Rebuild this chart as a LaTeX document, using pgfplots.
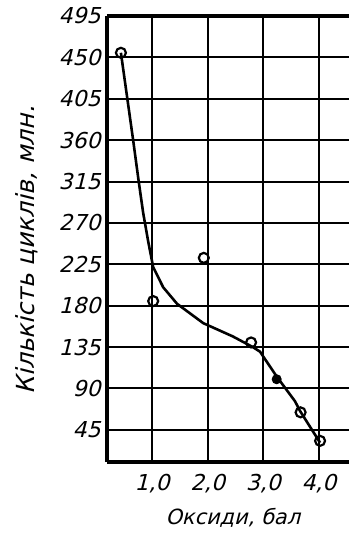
\documentclass[border=0pt]{standalone}
\usepackage{fontspec}
\setmainfont{DejaVu Sans}[FakeSlant=0.25]
\usepackage{pgfplots}
\pgfplotsset{compat=1.18}
\begin{document}
\begin{tikzpicture}
\begin{axis}[
  scale only axis,
  width=242bp, height=446bp,
  xmin=0.19, xmax=4.54,
  ymin=10, ymax=495,
  separate axis lines,
  axis x line=box, axis y line=left,
  axis line style={line width=3.4pt, black, -},
  xtick={1,2,3,4},
  xticklabels={{1,0},{2,0},{3,0},{4,0}},
  ytick={45,90,135,180,225,270,315,360,405,450,495},
  major tick length=0pt,
  grid=major,
  grid style={line width=2pt, black},
  tick label style={font=\fontsize{22}{26}\selectfont},
  /pgf/number format/assume math mode=true,
  yticklabel style={xshift=-3bp},
  xticklabel style={yshift=-9bp},
  xlabel={Оксиди, бал},
  ylabel={Кількість циклів, млн.},
  xlabel style={font=\fontsize{21}{24}\selectfont, at={(axis description cs:0.52,-0.126)}, anchor=center},
  ylabel style={font=\fontsize{25}{28}\selectfont, at={(axis description cs:-0.33,0.475)}, anchor=center},
  clip=false,
]
\addplot[black, line width=2.6pt] coordinates {
(0.44,455) (0.66,360) (0.76,315) (0.84,281) (0.93,250) (1.02,222)
(1.20,200) (1.45,182) (1.92,161) (2.45,146.6) (2.81,135) (2.94,130)
(3.24,103) (3.57,76) (3.66,65.5) (4.02,31)
};
\addplot[only marks, mark=o, mark size=5pt, mark options={line width=2.2pt, black, fill=white}] coordinates {
(0.44,455) (1.02,185) (1.93,232) (2.78,140) (3.67,64) (4.02,33)
};
\addplot[only marks, mark=*, mark size=4.5pt, mark options={line width=1pt, black, fill=black}] coordinates {
(3.24,100)
};
\end{axis}
\pgfresetboundingbox
\path ([shift={(-107bp,-80bp)}]current axis.south west) rectangle ([shift={(0bp,16bp)}]current axis.north east);
\end{tikzpicture}
\end{document}
